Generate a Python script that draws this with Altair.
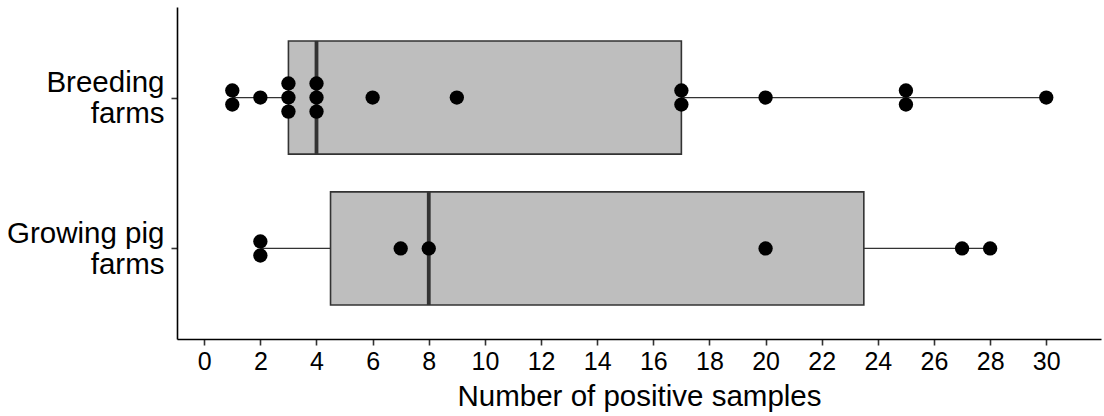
import altair as alt
import pandas as pd

# ---- data ----
groups = ["Breeding farms", "Growing pig farms"]
group_index = [1, 2]
breeding_values = [1, 1, 2, 3, 3, 3, 4, 4, 4, 6, 9, 17, 17, 20, 25, 25, 30]
growing_values = [2, 2, 7, 8, 20, 27, 28]

box_min = [1, 2]
box_q1 = [3, 4.5]
box_median = [4, 8]
box_q3 = [17, 23.5]
box_max = [30, 28]

x_ticks = list(range(0, 31, 2))

# ---- tables ----
DOT_STEP = 0.093  # vertical stacking step of identical values (in band units)
HALF_BOX = 0.375

rows = []
for g, idx, vals in zip(groups, group_index, [breeding_values, growing_values]):
    counts = pd.Series(vals).value_counts().to_dict()
    seen = {}
    for v in vals:
        k = seen.get(v, 0)
        seen[v] = k + 1
        n = counts[v]
        rows.append({"group": g, "value": v, "ypos": idx + (k - (n - 1) / 2) * DOT_STEP})
dots = pd.DataFrame(rows)

boxes = pd.DataFrame({
    "group": groups,
    "idx": group_index,
    "lo": box_min,
    "q1": box_q1,
    "med": box_median,
    "q3": box_q3,
    "hi": box_max,
})
boxes["top"] = boxes["idx"] - HALF_BOX
boxes["bottom"] = boxes["idx"] + HALF_BOX

xscale = alt.Scale(domain=[-0.97, 31.95], nice=False, zero=False)
yscale = alt.Scale(domain=[0.4, 2.6], reverse=True, nice=False, zero=False)

xaxis = alt.Axis(
    values=x_ticks, title="Number of positive samples", grid=False,
    labelFontSize=25, titleFontSize=29.5, labelPadding=4, titlePadding=8,
    tickSize=6, labelFlush=False,
)
yaxis = alt.Axis(
    values=group_index, title=None, grid=False,
    labelExpr="datum.value == 1 ? ['Breeding', 'farms'] : ['Growing pig', 'farms']",
    labelFontSize=29.5, labelLineHeight=31, labelPadding=7, labelBaseline="middle",
    labelOffset=-15, tickSize=6,
)

base = alt.Chart(boxes)

whisker = base.mark_rule(color="#333333", strokeWidth=1.3).encode(
    x=alt.X("lo:Q", scale=xscale, axis=xaxis),
    x2="hi:Q",
    y=alt.Y("idx:Q", scale=yscale, axis=yaxis),
)

box = base.mark_rect(fill="#BEBEBE", stroke="#333333", strokeWidth=1.6).encode(
    x=alt.X("q1:Q", scale=xscale),
    x2="q3:Q",
    y=alt.Y("top:Q", scale=yscale),
    y2="bottom:Q",
)

median = base.mark_rule(color="#333333", strokeWidth=3.8).encode(
    x=alt.X("med:Q", scale=xscale),
    y=alt.Y("top:Q", scale=yscale),
    y2="bottom:Q",
)

points = alt.Chart(dots).mark_circle(color="black", opacity=1, size=205).encode(
    x=alt.X("value:Q", scale=xscale),
    y=alt.Y("ypos:Q", scale=yscale),
)

chart = (
    alt.layer(whisker, box, median, points)
    .properties(
        width=924, height=332,
        padding={"left": 177, "top": 7, "right": 3, "bottom": 77},
        autosize=alt.AutoSizeParams(type="none"),
        background="white",
    )
    .configure_view(stroke=None)
    .configure_axis(
        labelFont="Liberation Sans", titleFont="Liberation Sans",
        labelColor="black", titleColor="black", titleFontWeight="normal",
        domainColor="black", domainWidth=1.6,
        tickColor="#333333", tickWidth=1.6,
    )
)

chart.save("out.html", embed_options={"renderer": "svg", "actions": False})
